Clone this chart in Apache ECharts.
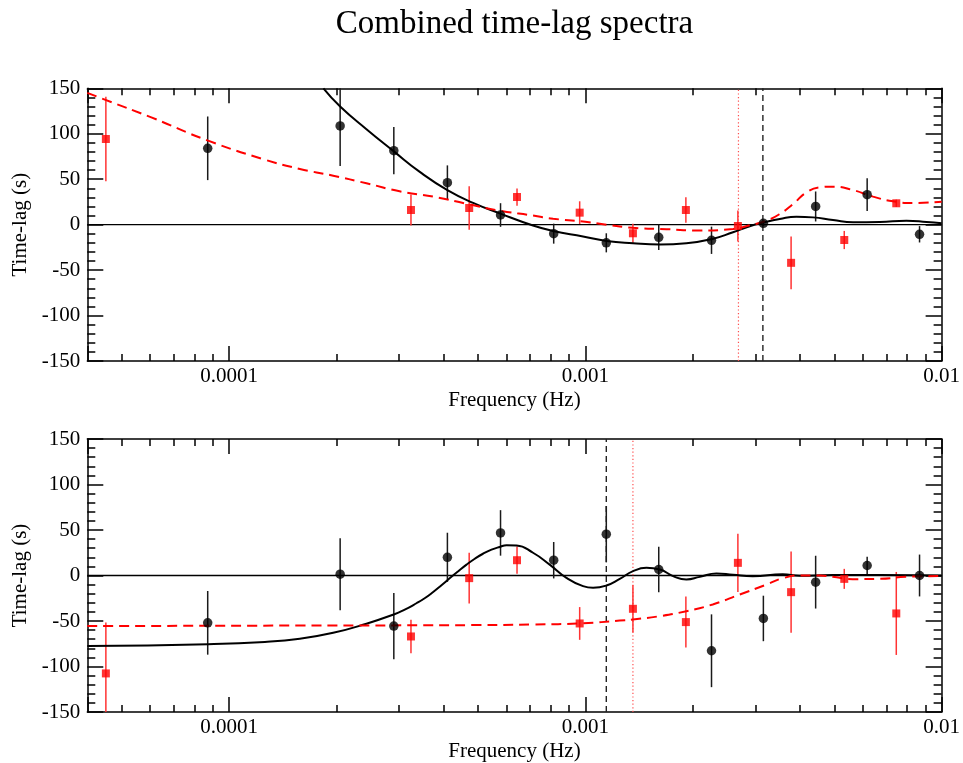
<!DOCTYPE html>
<html>
<head>
<meta charset="utf-8">
<script src="https://cdn.jsdelivr.net/npm/echarts@6/dist/echarts.min.js"></script>
<style>
html,body{margin:0;padding:0;background:#fff;}
#chart{width:963px;height:763px;}
</style>
</head>
<body>
<div id="chart"></div>
<script>
// ---------------- data ----------------
const titleText = 'Combined time-lag spectra';
const xAxisName = 'Frequency (Hz)';
const yAxisName = 'Time-lag (s)';
const xMin = 4e-5, xMax = 0.01;
const yMin = -150, yMax = 150, yStep = 50;

// observed frequencies (Hz)
const blackFreq = [8.71e-5, 2.05e-4, 2.90e-4, 4.10e-4, 5.78e-4, 8.15e-4, 1.145e-3, 1.607e-3, 2.26e-3, 3.16e-3, 4.43e-3, 6.18e-3, 8.67e-3];
const redFreq = [4.51e-5, 3.24e-4, 4.72e-4, 6.43e-4, 9.64e-4, 1.36e-3, 1.915e-3, 2.68e-3, 3.78e-3, 5.33e-3, 7.46e-3];

// top panel
const topBlackLag = [84, 108.6, 81.4, 46.2, 10.6, -9.9, -20, -13.9, -17.2, 1.5, 20, 33, -10.6];
const topBlackErr = [35, 44, 26, 19, 13, 11, 10.5, 14, 15, 3, 16.5, 18, 9];
const topRedLag = [94.2, 16.1, 18.3, 30.4, 13.2, -9.5, 16.1, -1.5, -42, -16.9, 23.5];
const topRedErr = [46.5, 17, 24, 9.5, 12.5, 10.5, 14, 17, 29, 10, 4];

const topBlackModelFreq = [1.84e-4, 2.05e-4, 2.43e-4, 2.90e-4, 3.43e-4, 4.10e-4, 4.84e-4, 5.75e-4, 7.13e-4, 8.12e-4, 9.85e-4, 1.146e-3, 1.361e-3, 1.618e-3, 1.921e-3, 2.259e-3, 2.597e-3, 2.893e-3, 3.153e-3, 3.513e-3, 3.913e-3, 4.356e-3, 4.957e-3, 5.641e-3, 6.705e-3, 7.963e-3, 9.07e-3, 1.0e-2];
const topBlackModel = [150, 130, 105, 80.6, 58, 38, 24, 12.4, -1, -7, -13, -18, -20.5, -21.8, -20.5, -16, -8.4, -1.8, 2.2, 6.2, 8.8, 8, 5.1, 2.6, 2.9, 4.4, 3, 1.5];
const topRedModelFreq = [4.0e-5, 4.48e-5, 6.05e-5, 8.73e-5, 1.26e-4, 1.58e-4, 1.96e-4, 2.43e-4, 3.01e-4, 3.74e-4, 4.64e-4, 5.75e-4, 7.13e-4, 8.12e-4, 9.85e-4, 1.146e-3, 1.361e-3, 1.689e-3, 2.095e-3, 2.597e-3, 2.893e-3, 3.223e-3, 3.513e-3, 3.828e-3, 4.174e-3, 4.549e-3, 4.957e-3, 5.641e-3, 6.421e-3, 7.304e-3, 8.31e-3, 1.0e-2];
const topRedModel = [145, 137.5, 118, 92.4, 71.5, 61.3, 53.9, 45.5, 36.7, 30.8, 23, 15.4, 10, 6.5, 3.5, 0, -3.5, -5, -6.5, -4.8, -0.7, 4.4, 11.7, 22.7, 35.5, 41, 41.8, 38, 30.8, 25.7, 23.8, 25.3];
const topRedVLine = 2.69e-3;
const topBlackVLine = 3.15e-3;

// bottom panel
const botBlackLag = [-52, 1.4, -55.6, 20, 46.8, 16.8, 45.4, 6.6, -82.7, -47.2, -7.3, 11, 0];
const botBlackErr = [35, 39.5, 36.5, 27, 25, 20, 31, 25, 40, 25, 29, 9.5, 23];
const botRedLag = [-107.6, -67, -2.9, 16.8, -52.7, -36.6, -51.2, 13.9, -18.3, -3.7, -41.7];
const botRedErr = [56, 18.5, 28, 15, 18, 26, 28, 32, 44.6, 11, 45.6];

const botBlackModelFreq = [4.0e-5, 8.73e-5, 1.26e-4, 1.58e-4, 1.96e-4, 2.43e-4, 2.90e-4, 3.112e-4, 3.357e-4, 3.54e-4, 3.74e-4, 3.946e-4, 4.16e-4, 4.393e-4, 4.64e-4, 4.894e-4, 5.16e-4, 5.452e-4, 5.75e-4, 6.01e-4, 6.41e-4, 7.13e-4, 7.94e-4, 8.85e-4, 9.85e-4, 1.051e-3, 1.146e-3, 1.249e-3, 1.361e-3, 1.484e-3, 1.618e-3, 1.763e-3, 1.921e-3, 2.095e-3, 2.333e-3, 2.597e-3, 2.95e-3, 3.581e-3, 3.997e-3, 4.947e-3, 6.705e-3, 1.0e-2];
const botBlackModel = [-77.6, -75.5, -73, -69.5, -63, -53, -42.8, -37.5, -30.5, -25, -18.1, -10.7, -3.1, 4.5, 11.9, 18.4, 23.9, 28.4, 31.4, 33.3, 33, 25, 12, -2.6, -11.7, -13.5, -11, -3.7, 4.8, 8.4, 6.6, -0.7, -4.4, -1.5, 2.2, 0.7, -0.7, 1.3, -0.3, 0.5, 0.6, 0];
const botRedModelFreq = [4.0e-5, 1.58e-4, 4.84e-4, 7.13e-4, 9.85e-4, 1.249e-3, 1.361e-3, 1.618e-3, 1.921e-3, 2.278e-3, 2.713e-3, 3.223e-3, 3.581e-3, 3.997e-3, 4.549e-3, 4.947e-3, 5.631e-3, 6.705e-3, 7.93e-3, 1.0e-2];
const botRedModel = [-55.6, -55, -54.5, -53.8, -52.5, -49.5, -48.3, -44.7, -39.2, -31.8, -20.9, -10, -3, 0, 0, -1.5, -4, -3.7, -1.5, -0.5];
const botBlackVLine = 1.145e-3;
const botRedVLine = 1.36e-3;

// ---------------- chart ----------------
const FONT = 'Liberation Serif';
const zip2 = (a, b) => a.map((v, i) => [v, b[i]]);
const zip3 = (a, b, c) => a.map((v, i) => [v, b[i], c[i]]);

const grids = [
  {left: 87.3, right: 21.3, top: 88.3, height: 272.7},
  {left: 87.3, right: 21.3, top: 439, height: 273.3}
];

function decadeLabel(v) {
  const l = Math.log10(v);
  if (Math.abs(l - Math.round(l)) < 1e-6) return String(Number(v.toPrecision(1)));
  return '';
}

const lineW = 1.5;
function makeXAxes(g) {
  const base = {
    type: 'log', logBase: 10, gridIndex: g, min: xMin, max: xMax,
    axisLine: {show: true, onZero: false, lineStyle: {color: '#000', width: lineW}},
    axisTick: {show: true, inside: true, length: 15, lineStyle: {color: '#000', width: lineW}},
    minorTick: {show: true, splitNumber: 9, length: 7, lineStyle: {color: '#000', width: lineW}},
    splitLine: {show: false}, minorSplitLine: {show: false}
  };
  return [
    Object.assign({}, base, {
      position: 'bottom',
      axisLabel: {show: true, formatter: decadeLabel, fontFamily: FONT, fontSize: 21, color: '#000', margin: 5},
      name: xAxisName, nameLocation: 'middle', nameGap: 29,
      nameTextStyle: {fontFamily: FONT, fontSize: 21, color: '#000'}
    }),
    Object.assign({}, base, {position: 'top', axisLabel: {show: false}})
  ];
}
function makeYAxes(g) {
  const base = {
    type: 'value', gridIndex: g, min: yMin, max: yMax, interval: yStep,
    axisLine: {show: true, onZero: false, lineStyle: {color: '#000', width: lineW}},
    axisTick: {show: true, inside: true, length: 16, lineStyle: {color: '#000', width: lineW}},
    minorTick: {show: true, splitNumber: 5, length: 8, lineStyle: {color: '#000', width: lineW}},
    splitLine: {show: false}, minorSplitLine: {show: false}
  };
  return [
    Object.assign({}, base, {
      position: 'left',
      axisLabel: {show: true, fontFamily: FONT, fontSize: 21, color: '#000', margin: 7},
      name: yAxisName, nameLocation: 'middle', nameGap: 48,
      nameTextStyle: {fontFamily: FONT, fontSize: 21, color: '#000'}
    }),
    Object.assign({}, base, {position: 'right', axisLabel: {show: false}})
  ];
}

function errorBars(g, data, color, width) {
  return {
    type: 'custom', xAxisIndex: 2 * g, yAxisIndex: 2 * g, z: 3, silent: true,
    data: data,
    renderItem: function (params, api) {
      const x = api.value(0), y = api.value(1), e = api.value(2);
      const lo = Math.max(y - e, yMin), hi = Math.min(y + e, yMax);
      const p1 = api.coord([x, lo]), p2 = api.coord([x, hi]);
      return {type: 'line', shape: {x1: p1[0], y1: p1[1], x2: p2[0], y2: p2[1]},
              style: {stroke: color, lineWidth: width}};
    }
  };
}

function vLine(g, v, color, dash, width) {
  return {type: 'line', xAxisIndex: 2 * g, yAxisIndex: 2 * g, data: [[v, yMin], [v, yMax]],
    showSymbol: false, symbol: 'none', silent: true, z: 2,
    lineStyle: {color: color, width: width, type: dash}};
}

function panelSeries(g, bF, bL, bE, rF, rL, rE, bmF, bm, rmF, rm, vlines) {
  return [
    {type: 'line', xAxisIndex: 2 * g, yAxisIndex: 2 * g, data: [[xMin, 0], [xMax, 0]],
     showSymbol: false, symbol: 'none', silent: true, z: 1,
     lineStyle: {color: '#000', width: 1.3}},
    vLine(g, vlines.red, '#ff4d4d', [1.2, 2.4], 1.2),
    vLine(g, vlines.black, '#222', [6, 4], 1.4),
    {type: 'line', xAxisIndex: 2 * g, yAxisIndex: 2 * g, data: zip2(bmF, bm), smooth: 0.5,
     showSymbol: false, symbol: 'none', z: 4, silent: true,
     lineStyle: {color: '#000', width: 2}},
    {type: 'line', xAxisIndex: 2 * g, yAxisIndex: 2 * g, data: zip2(rmF, rm), smooth: 0.5,
     showSymbol: false, symbol: 'none', z: 4, silent: true,
     lineStyle: {color: '#ff0000', width: 2, type: [10, 6]}},
    errorBars(g, zip3(bF, bL, bE), '#1a1a1a', 1.5),
    errorBars(g, zip3(rF, rL, rE), '#ff3333', 1.5),
    {type: 'scatter', xAxisIndex: 2 * g, yAxisIndex: 2 * g, data: zip2(bF, bL), symbol: 'circle',
     symbolSize: 9.5, z: 5, silent: true, itemStyle: {color: '#000'}},
    {type: 'scatter', xAxisIndex: 2 * g, yAxisIndex: 2 * g, data: zip2(rF, rL), symbol: 'rect',
     symbolSize: 8, z: 5, silent: true, itemStyle: {color: '#ff0000'}}
  ];
}

const option = {
  backgroundColor: '#fff',
  animation: false,
  graphic: [{type: 'text', x: 514.5, y: 8,
    style: {text: titleText, font: '33px "Liberation Serif"', fill: '#000', textAlign: 'center', textVerticalAlign: 'top'}}],
  grid: grids,
  xAxis: makeXAxes(0).concat(makeXAxes(1)),
  yAxis: makeYAxes(0).concat(makeYAxes(1)),
  series: []
    .concat(panelSeries(0, blackFreq, topBlackLag, topBlackErr, redFreq, topRedLag, topRedErr,
      topBlackModelFreq, topBlackModel, topRedModelFreq, topRedModel, {red: topRedVLine, black: topBlackVLine}))
    .concat(panelSeries(1, blackFreq, botBlackLag, botBlackErr, redFreq, botRedLag, botRedErr,
      botBlackModelFreq, botBlackModel, botRedModelFreq, botRedModel, {red: botRedVLine, black: botBlackVLine}))
};

const chart = echarts.init(document.getElementById('chart'), null, {renderer: 'canvas'});
chart.setOption(option);
</script>
</body>
</html>
